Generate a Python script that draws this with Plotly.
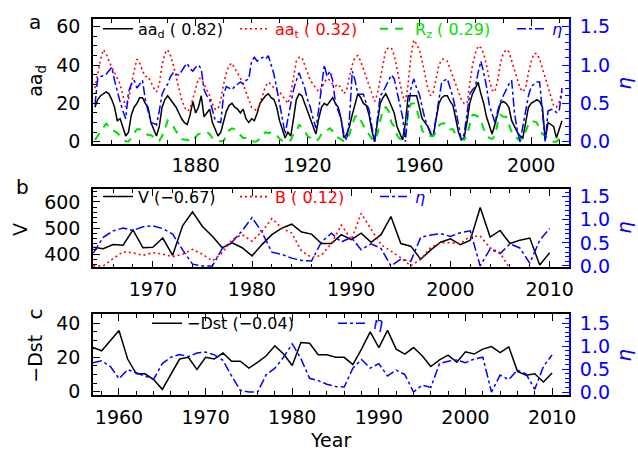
import plotly.graph_objects as go

# ---------------- data ----------------
years_a = list(range(1844, 2012))
aa_d = [18, 22, 24, 25, 26, 25, 22, 18, 11, 12,
        8, 3, 5, 14, 18, 20, 23, 23, 20, 18,
        10, 6, 3, 8, 18, 22, 24, 22, 20, 18,
        15, 12, 10, 9, 14, 21, 15, 18, 24, 13,
        15, 17, 10, 6, 3, 5, 10, 16, 19, 20,
        18, 17, 15, 17, 12, 10, 12, 11, 15, 20,
        22, 24, 25, 23, 22, 18, 11, 6, 2, 5,
        3, 12, 22, 25, 24, 20, 16, 13, 8, 4,
        12, 18, 20, 19, 21, 23, 20, 18, 12, 2,
        4, 8, 14, 20, 25, 23, 20, 19, 14, 6,
        0, 10, 20, 23, 25, 22, 18, 15, 8, 4,
        1, 10, 24, 24, 24, 24, 18, 12, 10, 8,
        4, 3, 12, 20, 23, 24, 24, 21, 19, 12,
        5, 1, 2, 10, 20, 25, 28, 31, 25, 20,
        13, 8, 4, 9, 15, 20, 21, 20, 18, 11,
        8, 5, 3, 2, 10, 18, 20, 21, 22, 21,
        18, 1, 10, 9, 8, 2, 6, 11]
aa_t = [28, 36, 43, 48, 46, 42, 39, 36, 33, 30,
        24, 18, 22, 30, 37, 43, 41, 37, 34, 34,
        31, 28, 26, 30, 40, 46, 48, 45, 40, 34,
        28, 22, 18, 16, 17, 22, 28, 33, 33, 30,
        27, 24, 20, 17, 17, 22, 30, 36, 40, 41,
        38, 36, 33, 30, 26, 22, 18, 17, 16, 20,
        25, 29, 31, 30, 28, 27, 26, 24, 22, 20,
        25, 34, 42, 44, 44, 40, 36, 32, 30, 28,
        26, 28, 31, 33, 32, 30, 29, 30, 28, 25,
        27, 34, 40, 44, 45, 42, 38, 34, 30, 26,
        21, 25, 33, 42, 48, 49, 49, 45, 38, 30,
        24, 21, 30, 45, 53, 51, 48, 42, 35, 28,
        24, 26, 33, 40, 43, 43, 42, 38, 34, 30,
        26, 22, 20, 20, 30, 40, 46, 50, 49, 46,
        40, 32, 27, 26, 32, 41, 46, 48, 47, 42,
        37, 32, 28, 26, 28, 36, 42, 46, 46, 43,
        38, 33, 28, 23, 19, 18, 21, 26]
r_z = [1.0, 3.0, 5.0, 7.5, 9.5, 8.0, 6.0, 5.5, 4.5, 3.0,
       1.5, 0.3, 0.2, 2.0, 4.5, 6.5, 6.5, 5.5, 4.5, 3.5,
       3.5, 2.0, 1.0, 0.5, 3.0, 6.5, 11.0, 9.5, 8.0, 5.5,
       3.5, 1.5, 1.0, 1.0, 0.2, 0.5, 2.5, 4.0, 4.5, 5.0,
       5.0, 4.0, 2.0, 1.0, 0.5, 0.3, 0.5, 3.0, 6.0, 7.0,
       6.5, 5.0, 3.5, 2.0, 2.0, 1.0, 0.5, 0.0, 0.3, 2.0,
       3.5, 5.0, 4.5, 5.0, 4.0, 3.5, 1.5, 0.5, 0.2, 0.0,
       0.8, 4.0, 5.0, 9.0, 7.0, 5.5, 3.0, 2.0, 1.0, 0.3,
       1.5, 4.0, 5.5, 6.0, 7.0, 5.5, 3.0, 2.0, 1.0, 0.3,
       0.8, 4.0, 9.0, 13.0, 14.0, 11.0, 8.5, 6.0, 3.5, 1.5,
       0.5, 4.0, 11.0, 17.0, 18.0, 16.0, 10.0, 8.0, 3.5, 1.5,
       0.3, 4.5, 16.0, 20.0, 20.0, 17.0, 12.0, 6.0, 4.0, 3.0,
       3.0, 3.0, 5.0, 8.5, 9.5, 9.5, 9.0, 6.5, 6.5, 3.5,
       3.0, 1.5, 1.0, 3.0, 9.0, 14.0, 14.0, 13.0, 11.0, 6.5,
       4.5, 2.0, 1.5, 3.0, 10.0, 14.0, 13.0, 13.0, 9.0, 5.0,
       3.0, 1.5, 0.5, 2.0, 6.0, 9.0, 11.0, 10.5, 10.0, 6.0,
       4.0, 3.0, 1.5, 0.5, 0.0, 0.0, 1.5, 5.0]
eta_a = [0.48, 0.83, 0.85, 0.86, 0.88, 0.92, 0.97, 0.80, 0.65, 0.52,
         0.40, 0.30, 0.65, 0.75, 0.80, 0.70, 0.75, 0.80, 0.55, 0.40,
         0.25, 0.24, 0.22, 0.40, 0.62, 0.70, 0.75, 0.85, 0.90, 0.88,
         0.87, 0.92, 0.98, 1.02, 0.95, 0.92, 0.97, 1.00, 0.95, 0.68,
         0.60, 0.55, 0.40, 0.28, 0.26, 0.25, 0.62, 0.72, 0.70, 0.68,
         0.72, 0.75, 0.78, 0.75, 0.80, 0.82, 1.05, 1.10, 1.05, 1.08,
         1.10, 1.08, 1.12, 1.00, 0.88, 0.70, 0.50, 0.30, 0.10, 0.30,
         0.52, 0.68, 0.80, 0.90, 0.80, 0.70, 0.55, 0.45, 0.30, 0.18,
         0.42, 0.75, 1.00, 0.85, 0.92, 0.80, 0.50, 0.40, 0.30, 0.10,
         0.02, 0.30, 0.92, 0.80, 0.62, 0.62, 0.62, 0.50, 0.42, 0.20,
         0.00, 0.30, 0.60, 0.65, 0.72, 0.80, 0.87, 0.82, 0.65, 0.50,
         0.32, 0.00, 0.42, 0.70, 0.82, 0.70, 0.62, 0.45, 0.30, 0.20,
         0.12, 0.10, 0.30, 0.55, 0.78, 0.80, 0.82, 0.70, 0.58, 0.42,
         0.20, 0.02, 0.10, 0.35, 0.62, 0.68, 0.72, 0.90, 1.05, 0.90,
         0.72, 0.48, 0.35, 0.25, 0.40, 0.52, 0.60, 0.68, 0.75, 0.80,
         0.38, 0.15, 0.00, 0.20, 0.40, 0.60, 0.72, 0.75, 0.78, 0.78,
         0.40, 0.00, 0.40, 0.42, 0.42, 0.38, 0.40, 0.70]

years_v = list(range(1964, 2011))
v_sw = [427, 421, 437, 435, 493, 425, 427, 462, 396, 509,
        562, 506, 469, 425, 444, 425, 394, 437, 475, 500,
        515, 485, 477, 441, 441, 475, 456, 481, 446, 475,
        544, 441, 431, 381, 416, 446, 459, 437, 454, 579,
        466, 491, 441, 454, 462, 359, 406]
years_b = list(range(1964, 2007))
b_imf = [4.34, 4.34, 5.05, 5.69, 5.61, 5.36, 5.61, 5.48, 5.23, 5.46,
         5.94, 5.46, 4.82, 5.61, 6.88, 7.36, 6.73, 7.66, 8.93, 8.00,
         7.51, 5.76, 5.15, 5.36, 6.50, 8.30, 6.88, 9.42, 7.89, 6.40,
         5.76, 5.13, 4.34, 4.97, 6.09, 6.57, 6.57, 6.50, 7.21, 7.21,
         6.09, 5.61, 4.04]

years_c = list(range(1957, 2011))
eta_sw = [0.64, 0.68, 0.56, 0.29, 0.49, 0.42, 0.34, 0.28, 0.62, 0.76,
          0.82, 0.77, 0.85, 0.87, 0.81, 0.69, 0.35, 0.04, 0.00, 0.00,
          0.38, 0.52, 0.76, 1.05, 0.73, 0.30, 0.25, 0.17, 0.12, 0.11,
          0.52, 0.71, 0.52, 0.62, 0.35, 0.48, 0.38, 0.00, 0.15, 0.10,
          0.62, 0.67, 0.70, 0.64, 0.72, 0.76, 0.00, 0.37, 0.27, 0.48,
          0.39, 0.06, 0.56, 0.81]
minus_dst = [25.7, 23.8, 29.7, 35.7, 19.0, 10.4, 10.4, 7.0, 1.3, 10.6,
             19.0, 20.0, 12.9, 20.0, 19.0, 22.5, 17.7, 17.7, 13.7, 17.1,
             20.9, 26.7, 21.9, 15.2, 28.6, 28.2, 21.5, 21.5, 20.0, 20.0,
             15.8, 24.8, 34.9, 25.7, 35.7, 24.8, 21.9, 25.7, 20.9, 14.6,
             18.5, 21.3, 17.1, 23.2, 21.9, 24.8, 26.3, 22.8, 26.1, 11.8,
             9.5, 10.4, 5.6, 10.8]

corr_a = ["0.82", "0.32", "0.29"]
corr_b = ["\u22120.67", "0.12"]
corr_c = ["\u22120.04"]

# ---------------- style ----------------
W, H = 638, 458
ML, MR, MT, MB = 93, 69, 12, 63
FONT = "DejaVu Sans"
RED, GREEN, BLUE = "#ff0000", "#00e000", "#0000ff"


def px(x):
    return (x - ML) / (W - ML - MR)


def py(y):
    return 1 - (y - MT) / (H - MT - MB)


fig = go.Figure()

# panel a
fig.add_trace(go.Scatter(x=years_a, y=aa_d, mode="lines", name="aa<sub>d</sub> ( " + corr_a[0] + ")",
                         line=dict(color="black", width=1.5), xaxis="x", yaxis="y",
                         legend="legend", legendwidth=92))
fig.add_trace(go.Scatter(x=years_a, y=aa_t, mode="lines",
                         name="<span style='color:red'>aa<sub>t</sub> ( " + corr_a[1] + ")</span>",
                         line=dict(color=RED, width=1.6, dash="2px,3px"), xaxis="x", yaxis="y",
                         legend="legend", legendwidth=95))
fig.add_trace(go.Scatter(x=years_a, y=r_z, mode="lines",
                         name="<span style='color:#00e000'>R<sub>z</sub> ( " + corr_a[2] + ")</span>",
                         line=dict(color=GREEN, width=2, dash="8px,7px"), xaxis="x", yaxis="y",
                         legend="legend", legendwidth=92))
fig.add_trace(go.Scatter(x=years_a, y=eta_a, mode="lines",
                         name="<span style='color:blue'><i>η</i></span>",
                         line=dict(color=BLUE, width=1.5, dash="dashdot"), xaxis="x", yaxis="y2",
                         legend="legend"))

# panel b
fig.add_trace(go.Scatter(x=years_v, y=v_sw, mode="lines", name="V (" + corr_b[0] + ")",
                         line=dict(color="black", width=1.5), xaxis="x2", yaxis="y3",
                         legend="legend2", legendwidth=92))
fig.add_trace(go.Scatter(x=years_b, y=b_imf, mode="lines",
                         name="<span style='color:red'>B ( " + corr_b[1] + ")</span>",
                         line=dict(color=RED, width=1.6, dash="2px,3px"), xaxis="x2", yaxis="y5",
                         legend="legend2", legendwidth=95))
fig.add_trace(go.Scatter(x=years_c[7:], y=eta_sw[7:], mode="lines",
                         name="<span style='color:blue'><i>η</i></span>",
                         line=dict(color=BLUE, width=1.5, dash="dashdot"), xaxis="x2", yaxis="y4",
                         legend="legend2"))

# panel c
fig.add_trace(go.Scatter(x=years_c, y=minus_dst, mode="lines", name="\u2212Dst (" + corr_c[0] + ")",
                         line=dict(color="black", width=1.5), xaxis="x3", yaxis="y6",
                         legend="legend3", legendwidth=141))
fig.add_trace(go.Scatter(x=years_c, y=eta_sw, mode="lines",
                         name="<span style='color:blue'><i>η</i></span>",
                         line=dict(color=BLUE, width=1.5, dash="dashdot"), xaxis="x3", yaxis="y7",
                         legend="legend3"))

tf = dict(family=FONT, size=19, color="black")
tfb = dict(family=FONT, size=19, color=BLUE)


def xax(rng, d0, dt, mdt, anchor):
    return dict(domain=[0, 1], anchor=anchor, range=rng, tick0=d0, dtick=dt,
                ticks="inside", ticklen=7, tickwidth=1.2, tickcolor="black",
                showline=True, linecolor="black", linewidth=1.5, mirror="ticks",
                minor=dict(dtick=mdt, tick0=d0, ticks="inside", ticklen=4, tickcolor="black"),
                showgrid=False, zeroline=False, tickfont=tf, ticklabelstandoff=4)


def yax_left(dom, rng, dt, mdt, anchor):
    return dict(domain=dom, anchor=anchor, range=rng, tick0=0, dtick=dt,
                ticks="inside", ticklen=7, tickwidth=1.2, tickcolor="black",
                showline=True, linecolor="black", linewidth=1.5, mirror=False,
                minor=dict(dtick=mdt, tick0=0, ticks="inside", ticklen=4, tickcolor="black"),
                showgrid=False, zeroline=False, tickfont=tf, ticklabelstandoff=7)


def yax_right(over, rng, anchor):
    return dict(overlaying=over, side="right", anchor=anchor, range=rng, tick0=0, dtick=0.5,
                tickformat=".1f", ticks="inside", ticklen=7, tickwidth=1.2, tickcolor=BLUE,
                showline=True, linecolor=BLUE, linewidth=2,
                minor=dict(dtick=0.1, tick0=0, ticks="inside", ticklen=4, tickcolor=BLUE),
                showgrid=False, zeroline=False, tickfont=tfb, ticklabelstandoff=5)


leg_common = dict(orientation="h", xanchor="left", yanchor="middle", bgcolor="rgba(0,0,0,0)",
                  font=dict(family=FONT, size=16, color="black"), itemwidth=30,
                  borderwidth=0, traceorder="normal")

ann = []


def text(x, y, s, size=19, color="black", angle=0):
    ann.append(dict(x=px(x), y=py(y), xref="paper", yref="paper", text=s, showarrow=False,
                    xanchor="center", yanchor="middle", textangle=angle,
                    font=dict(family=FONT, size=size, color=color)))


text(35, 15, "a", 20)
text(22, 183, "b", 20)
text(35, 313, "c", 20, angle=-90)
text(37, 75, "aa<sub>d</sub>", 19, angle=-90)
text(20, 227, "V", 19, angle=-90)
text(35, 358, "\u2212Dst", 19, angle=-90)
text(624, 78, "<i>η</i>", 20, BLUE, -90)
text(624, 225, "<i>η</i>", 20, BLUE, -90)
text(624, 355, "<i>η</i>", 20, BLUE, -90)
text(330, 441, "Year", 19)

fig.update_layout(
    width=W, height=H, autosize=False,
    margin=dict(l=ML, r=MR, t=MT, b=MB, pad=0),
    paper_bgcolor="white", plot_bgcolor="white",
    font=dict(family=FONT, size=16, color="black"),
    hovermode=False,
    xaxis=xax([1843.3, 2013.5], 1880, 40, 10, "y"),
    yaxis=yax_left([py(139), 1.0], [-1, 64], 20, 5, "x"),
    yaxis2=yax_right("y", [-0.025, 1.6], "x"),
    xaxis2=xax([1963.97, 2011.95], 1970, 10, 2, "y3"),
    yaxis3=yax_left([py(265), py(185)], [350, 650], 100, 20, "x2"),
    yaxis4=yax_right("y3", [-0.03, 1.67], "x2"),
    yaxis5=dict(overlaying="y3", anchor="x2", range=[4.19, 11.8], visible=False),
    xaxis3=xax([1957.0, 2011.95], 1960, 10, 2, "y6"),
    yaxis6=yax_left([0.0, py(313)], [-2, 45], 20, 5, "x3"),
    yaxis7=yax_right("y6", [-0.064, 1.69], "x3"),
    legend=dict(leg_common, x=px(98), y=py(22)),
    legend2=dict(leg_common, x=px(98), y=py(193)),
    legend3=dict(leg_common, x=px(147), y=py(322)),
    annotations=ann,
    showlegend=True,
)

fig.write_html("out.html", config={"displayModeBar": False},
               post_script="document.body.style.margin='0';document.body.style.padding='0';")
